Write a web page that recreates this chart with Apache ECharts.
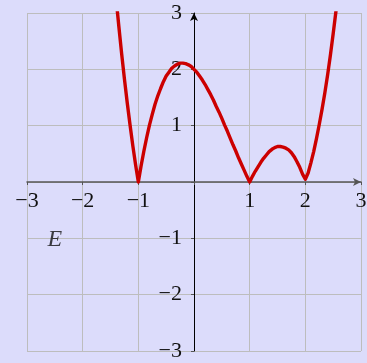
<!DOCTYPE html>
<html>
<head>
<meta charset="utf-8">
<script src="https://cdn.jsdelivr.net/npm/echarts@6/dist/echarts.min.js"></script>
<style>
  html, body { margin: 0; padding: 0; background: #dcdcfb; }
  #chart { width: 367px; height: 363px; }
</style>
</head>
<body>
<div id="chart"></div>
<script>
// curve samples (x, y)
const curveX = [
    -1.4, -1.35, -1.3, -1.25, -1.2, -1.15, -1.1, -1.05, -1.0, -0.95,
    -0.9, -0.85, -0.8, -0.75, -0.7, -0.65, -0.6, -0.55, -0.5, -0.45,
    -0.4, -0.35, -0.3, -0.25, -0.2, -0.15, -0.1, -0.05, 0.0, 0.05,
    0.1, 0.15, 0.2, 0.25, 0.3, 0.35, 0.4, 0.45, 0.5, 0.55,
    0.6, 0.65, 0.7, 0.75, 0.8, 0.85, 0.9, 0.95, 1.0, 1.05,
    1.1, 1.15, 1.2, 1.25, 1.3, 1.35, 1.4, 1.45, 1.5, 1.55,
    1.6, 1.65, 1.7, 1.75, 1.8, 1.85, 1.9, 1.95, 2.0, 2.05,
    2.1, 2.15, 2.2, 2.25, 2.3, 2.35, 2.4, 2.45, 2.5, 2.55, 2.6
];
const curveY = [
    3.26, 2.76, 2.28, 1.83, 1.41, 1.02, 0.65, 0.31, 0.0, 0.29,
    0.55, 0.79, 1.01, 1.20, 1.38, 1.53, 1.66, 1.78, 1.88, 1.95,
    2.02, 2.06, 2.09, 2.11, 2.11, 2.10, 2.08, 2.05, 2.0, 1.95,
    1.88, 1.81, 1.73, 1.64, 1.55, 1.45, 1.34, 1.24, 1.13, 1.01,
    0.90, 0.78, 0.66, 0.55, 0.43, 0.32, 0.21, 0.10, 0.0, 0.10,
    0.19, 0.27, 0.35, 0.42, 0.48, 0.54, 0.58, 0.61, 0.63, 0.63,
    0.62, 0.60, 0.57, 0.52, 0.45, 0.36, 0.26, 0.14, 0.05, 0.16,
    0.34, 0.54, 0.77, 1.02, 1.29, 1.58, 1.90, 2.25, 2.63, 3.03, 3.46
];
const axisMin = -3;
const axisMax = 3;
const labelText = 'E';
const labelPos = [-2.5, -1.02];

const serif = 'Liberation Serif, DejaVu Serif, serif';

function tickLabel(v) {
    if (v === 0) return '';
    return v < 0 ? '\u2212' + Math.abs(v) : String(v);
}

// plot box; the axes cross at the centre of it
const plot = { left: 27, right: 6, top: 13, bottom: 12 };
const plotW = 367 - plot.left - plot.right;
const plotH = 363 - plot.top - plot.bottom;

const chart = echarts.init(document.getElementById('chart'), null, { renderer: 'canvas' });

chart.setOption({
    backgroundColor: '#dcdcfb',
    animation: false,
    grid: Object.assign({ outerBoundsMode: 'none' }, plot),
    xAxis: {
        type: 'value',
        position: 'bottom',
        offset: -plotH / 2,
        min: axisMin,
        max: axisMax,
        interval: 1,
        axisLine: {
            onZero: false,
            lineStyle: { color: '#555', width: 1.5 },
            symbol: ['none', 'arrow'],
            symbolSize: [6, 8],
        },
        axisTick: { show: true, length: 3, lineStyle: { color: '#555' } },
        axisLabel: {
            formatter: tickLabel,
            color: '#111',
            fontFamily: serif,
            fontSize: 22,
            margin: 8,
        },
        splitLine: { show: true, lineStyle: { color: '#bdbdbd', width: 1 } },
    },
    yAxis: {
        type: 'value',
        position: 'left',
        offset: -plotW / 2,
        min: axisMin,
        max: axisMax,
        interval: 1,
        axisLine: {
            onZero: false,
            lineStyle: { color: '#000', width: 1 },
            symbol: ['none', 'arrow'],
            symbolSize: [6, 8],
        },
        axisTick: { show: true, length: 3, lineStyle: { color: '#555' } },
        axisLabel: {
            formatter: tickLabel,
            color: '#111',
            fontFamily: serif,
            fontSize: 22,
            margin: 12,
        },
        splitLine: { show: true, lineStyle: { color: '#bdbdbd', width: 1 } },
    },
    series: [
        {
            type: 'line',
            data: curveX.map((x, i) => [x, curveY[i]]),
            showSymbol: false,
            clip: true,
            lineStyle: { color: '#cc0000', width: 3.4, join: 'round' },
        },
        {
            type: 'scatter',
            data: [labelPos],
            symbolSize: 0,
            label: {
                show: true,
                position: 'inside',
                formatter: labelText,
                color: '#111',
                fontFamily: serif,
                fontStyle: 'italic',
                fontSize: 24,
            },
        },
    ],
});
</script>
</body>
</html>
